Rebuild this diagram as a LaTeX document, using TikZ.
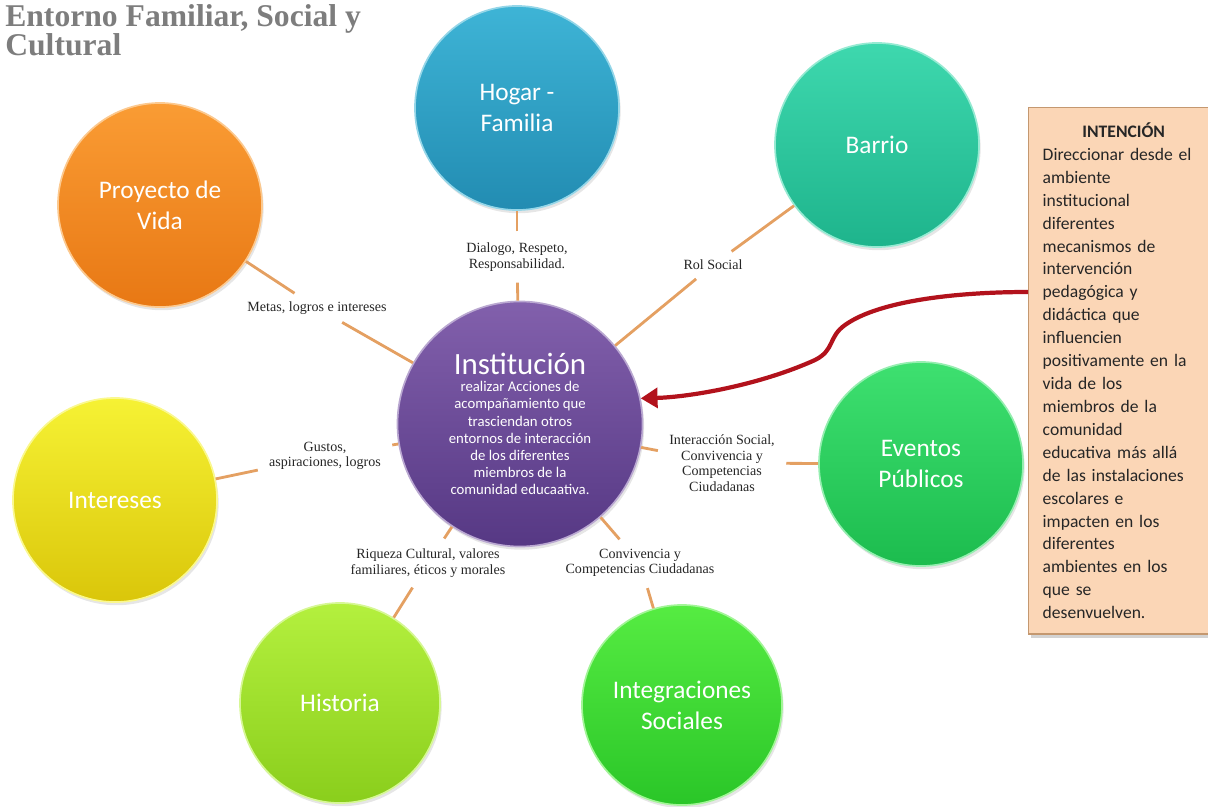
\documentclass[tikz,border=0pt]{standalone}
\usepackage{fontspec}
\setmainfont{Liberation Serif}
\newfontfamily\calibri{Carlito}
\usetikzlibrary{arrows.meta,shadows}

\definecolor{hogarA}{RGB}{62,180,214}
\definecolor{hogarB}{RGB}{34,140,178}
\definecolor{barrioA}{RGB}{62,216,174}
\definecolor{barrioB}{RGB}{30,180,140}
\definecolor{proyA}{RGB}{250,156,52}
\definecolor{proyB}{RGB}{232,120,20}
\definecolor{instA}{RGB}{130,96,172}
\definecolor{instB}{RGB}{86,56,132}
\definecolor{interA}{RGB}{246,242,52}
\definecolor{interB}{RGB}{218,198,10}
\definecolor{eventA}{RGB}{62,224,112}
\definecolor{eventB}{RGB}{28,188,78}
\definecolor{histA}{RGB}{180,240,62}
\definecolor{histB}{RGB}{138,206,28}
\definecolor{integA}{RGB}{86,236,66}
\definecolor{integB}{RGB}{42,198,40}
\definecolor{connline}{RGB}{228,160,98}
\definecolor{arrowred}{RGB}{178,18,28}
\definecolor{boxfill}{RGB}{251,214,182}
\definecolor{boxline}{RGB}{196,152,112}
\definecolor{titlegray}{RGB}{125,125,125}

\tikzset{
  bubble/.style 2 args={circle, minimum size=5.1cm, inner sep=0pt, align=center,
    top color=#1, bottom color=#2, draw=#1!55!white, line width=1.2pt,
    text=white, font=\calibri\fontsize{18}{22}\selectfont,
    drop shadow={opacity=0.2, shadow xshift=0.04cm, shadow yshift=-0.08cm}},
  lbl/.style={align=center, inner sep=3pt, text=black!85,
    font=\fontsize{10}{11}\selectfont},
  conn/.style={draw=connline, line width=2pt},
  redarrow/.style={draw=arrowred, line width=3pt,
    -{Triangle[length=12pt,width=14pt]}},
  intentbox/.style={draw=boxline, fill=boxfill, line width=1pt, text width=4.05cm,
    minimum height=13.15cm, inner xsep=0.35cm, align=left, text=black!85,
    font=\calibri\fontsize{12.5}{16.3}\selectfont,
    drop shadow={opacity=0.35, shadow xshift=0.05cm, shadow yshift=-0.1cm}}
}

\begin{document}
\begin{tikzpicture}[x=0.025cm, y=-0.025cm]

\clip (0,0) rectangle (1208,807);

\node[anchor=north west, inner sep=0pt, align=left, text=titlegray,
  font=\bfseries\fontsize{22.5}{20.5}\selectfont] (title) at (5,4)
  {Entorno Familiar, Social y\\Cultural};

\node[bubble={hogarA}{hogarB}] (hogar) at (517,108) {Hogar -\\Familia};
\node[bubble={barrioA}{barrioB}] (barrio) at (877,145) {Barrio};
\node[bubble={proyA}{proyB}] (proyecto) at (160,205) {Proyecto de\\Vida};
\node[bubble={interA}{interB}] (intereses) at (115,500) {Intereses};
\node[bubble={eventA}{eventB}] (eventos) at (921,464) {Eventos\\Públicos};
\node[bubble={histA}{histB}, minimum size=5cm] (historia) at (340,703) {Historia};
\node[bubble={integA}{integB}, minimum size=5cm] (integ) at (682,705) {Integraciones\\Sociales};

\node[bubble={instA}{instB}, minimum size=5.15cm] (inst) at (520,424)
  {\parbox{5cm}{\centering{\fontsize{22}{26}\selectfont Institución\par}
   \fontsize{10.5}{12.2}\selectfont realizar Acciones de\\acompañamiento que\\trasciendan otros\\
   entornos de interacción\\de los diferentes\\miembros de la\\comunidad educaativa.}};

\node[lbl] (lhogar) at (517,257) {Dialogo, Respeto,\\Responsabilidad.};
\node[lbl] (lbarrio) at (713,265) {Rol Social};
\node[lbl] (lproyecto) at (317,308) {Metas, logros e intereses};
\node[lbl] (lintereses) at (325,456) {Gustos,\\aspiraciones, logros};
\node[lbl] (leventos) at (722,463) {Interacción Social,\\Convivencia y\\Competencias\\Ciudadanas};
\node[lbl] (lhistoria) at (428,563) {Riqueza Cultural, valores\\familiares, éticos y morales};
\node[lbl] (linteg) at (640,563) {Convivencia y\\Competencias Ciudadanas};

\foreach \c/\l in {hogar/lhogar, barrio/lbarrio, proyecto/lproyecto, intereses/lintereses,
                   eventos/leventos, historia/lhistoria, integ/linteg}
{
  \draw[conn, shorten >=5pt] (inst) -- (\l);
  \draw[conn, shorten <=5pt] (\l) -- (\c);
}

\node[intentbox, anchor=north west] (intent) at (1028,107)
  {\centerline{\bfseries INTENCIÓN}
   Direccionar desde el\\ambiente\\institucional\\diferentes\\mecanismos de\\intervención\\
   pedagógica y\\didáctica que\\influencien\\positivamente en la\\vida de los\\
   miembros de la\\comunidad\\educativa más allá\\de las instalaciones\\escolares e\\
   impacten en los\\diferentes\\ambientes en los\\que se\\desenvuelven.};

\coordinate (arrowstart) at (intent.west |- 0,292);
\draw[redarrow] (arrowstart) .. controls (960,292) and (880,300) .. (845,325)
  .. controls (828,337) and (835,350) .. (815,360)
  .. controls (760,385) and (690,397) .. (inst.12);

\end{tikzpicture}
\end{document}
